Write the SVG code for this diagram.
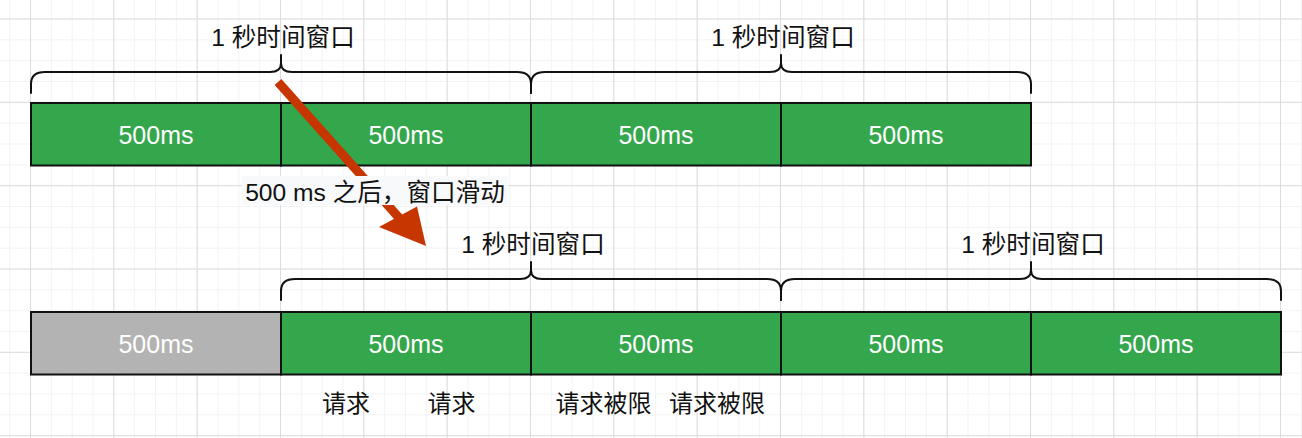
<svg xmlns="http://www.w3.org/2000/svg" width="1302" height="438" viewBox="0 0 1302 438">
<style>
.minor{stroke:#f3f3f3;stroke-width:1;fill:none}
.major{stroke:#dcdcdc;stroke-width:1;fill:none}
.box{stroke:#111;stroke-width:2}
.green{fill:#34a64c}
.gray{fill:#b3b3b3}
.btxt{font-family:"Liberation Sans","Noto Sans CJK SC",sans-serif;font-size:25px;fill:#ffffff;text-anchor:middle}
.lbl{font-family:"Liberation Sans","Noto Sans CJK SC",sans-serif;font-size:24px;fill:#111;text-anchor:middle}
.win{font-size:24.6px}
.arrlbl{font-family:"Liberation Sans","Noto Sans CJK SC",sans-serif;font-size:24.6px;fill:#111;text-anchor:middle}
.brace{stroke:#111;stroke-width:2;fill:none;stroke-linecap:round;stroke-linejoin:round}
</style>
<rect width="1302" height="438" fill="#ffffff"/>
<g id="grid">
<path class="minor" d="M9.67 0V438M30.5 0V438M51.33 0V438M72.17 0V438M93 0V438M113.83 0V438M134.67 0V438M155.5 0V438M176.33 0V438M197.17 0V438M218 0V438M238.83 0V438M259.67 0V438M280.5 0V438M301.33 0V438M322.17 0V438M343 0V438M363.83 0V438M384.67 0V438M405.5 0V438M426.33 0V438M447.17 0V438M468 0V438M488.83 0V438M509.67 0V438M530.5 0V438M551.33 0V438M572.17 0V438M593 0V438M613.83 0V438M634.67 0V438M655.5 0V438M676.33 0V438M697.17 0V438M718 0V438M738.83 0V438M759.67 0V438M780.5 0V438M801.33 0V438M822.17 0V438M843 0V438M863.83 0V438M884.67 0V438M905.5 0V438M926.33 0V438M947.17 0V438M968 0V438M988.83 0V438M1009.67 0V438M1030.5 0V438M1051.33 0V438M1072.17 0V438M1093 0V438M1113.83 0V438M1134.67 0V438M1155.5 0V438M1176.33 0V438M1197.17 0V438M1218 0V438M1238.83 0V438M1259.67 0V438M1280.5 0V438M1301.33 0V438"/>
<path class="minor" d="M0 19H1302M0 39.83H1302M0 60.67H1302M0 81.5H1302M0 102.33H1302M0 123.17H1302M0 144H1302M0 164.83H1302M0 185.67H1302M0 206.5H1302M0 227.33H1302M0 248.17H1302M0 269H1302M0 289.83H1302M0 310.67H1302M0 331.5H1302M0 352.33H1302M0 373.17H1302M0 394H1302M0 414.83H1302M0 435.67H1302"/>
<path class="major" d="M30.5 0V438M113.83 0V438M197.17 0V438M280.5 0V438M363.83 0V438M447.17 0V438M530.5 0V438M613.83 0V438M697.17 0V438M780.5 0V438M863.83 0V438M947.17 0V438M1030.5 0V438M1113.83 0V438M1197.17 0V438M1280.5 0V438M0 19H1302M0 102.33H1302M0 185.67H1302M0 269H1302M0 352.33H1302M0 435.67H1302"/>
</g>
<g id="top-row">
<g id="t1"><rect class="box green" x="31" y="103" width="250" height="62.5"/><text class="btxt" x="156" y="144">500ms</text></g>
<g id="t2"><rect class="box green" x="281" y="103" width="250" height="62.5"/><text class="btxt" x="406" y="144">500ms</text></g>
<g id="t3"><rect class="box green" x="531" y="103" width="250" height="62.5"/><text class="btxt" x="656" y="144">500ms</text></g>
<g id="t4"><rect class="box green" x="781" y="103" width="250" height="62.5"/><text class="btxt" x="906" y="144">500ms</text></g>
</g>
<g id="bottom-row">
<g id="b1"><rect class="box gray" x="31" y="312" width="250" height="62.5"/><text class="btxt" x="156" y="353">500ms</text></g>
<g id="b2"><rect class="box green" x="281" y="312" width="250" height="62.5"/><text class="btxt" x="406" y="353">500ms</text></g>
<g id="b3"><rect class="box green" x="531" y="312" width="250" height="62.5"/><text class="btxt" x="656" y="353">500ms</text></g>
<g id="b4"><rect class="box green" x="781" y="312" width="250" height="62.5"/><text class="btxt" x="906" y="353">500ms</text></g>
<g id="b5"><rect class="box green" x="1031" y="312" width="250" height="62.5"/><text class="btxt" x="1156" y="353">500ms</text></g>
</g>
<g id="brace-top-1">
<path class="brace" d="M31 93V84Q31 72 45 72H270Q281 72 281 63V55M281 63Q281 72 292 72H517Q531 72 531 84V93"/>
<text class="lbl win" x="283" y="46">1 秒时间窗口</text>
</g>
<g id="brace-top-2">
<path class="brace" d="M531 93V84Q531 72 545 72H770Q781 72 781 63V55M781 63Q781 72 792 72H1017Q1031 72 1031 84V93"/>
<text class="lbl win" x="783" y="46">1 秒时间窗口</text>
</g>
<g id="brace-bottom-1">
<path class="brace" d="M281 300V291Q281 279 295 279H520Q531 279 531 270V262M531 270Q531 279 542 279H767Q781 279 781 291V300"/>
<text class="lbl win" x="533" y="253">1 秒时间窗口</text>
</g>
<g id="brace-bottom-2">
<path class="brace" d="M781 300V291Q781 279 795 279H1020Q1031 279 1031 270V262M1031 270Q1031 279 1042 279H1267Q1281 279 1281 291V300"/>
<text class="lbl win" x="1033" y="253">1 秒时间窗口</text>
</g>
<g id="connectors">
<line x1="278" y1="82" x2="401" y2="220" stroke="#c73500" stroke-width="9"/>
<polygon points="426,246 379,227 417,206.5" fill="#c73500"/>
<rect x="242" y="176" width="266" height="29" fill="#f8f9fb"/>
<text class="arrlbl" x="375" y="201">500 ms 之后，窗口滑动</text>
</g>
<g id="requests">
<text class="lbl" x="346" y="412">请求</text>
<text class="lbl" x="451.5" y="412">请求</text>
<text class="lbl" x="603.5" y="412">请求被限</text>
<text class="lbl" x="717" y="412">请求被限</text>
</g>
</svg>
